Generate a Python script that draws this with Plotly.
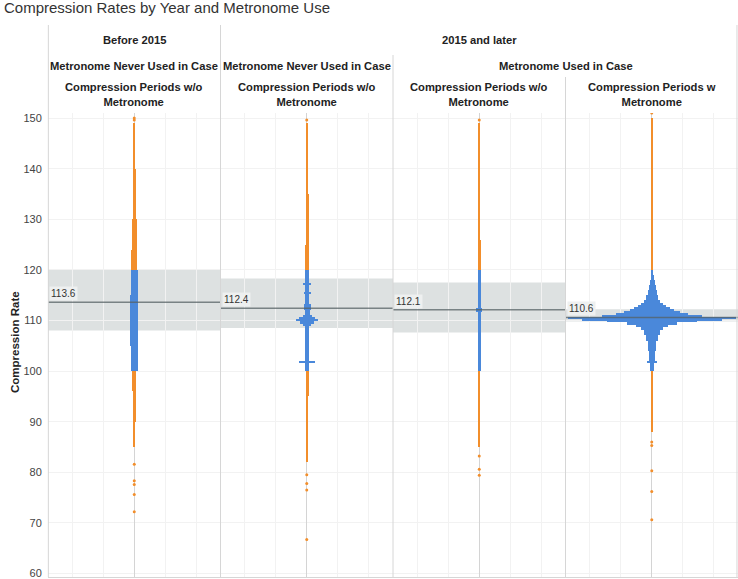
import plotly.graph_objects as go
from plotly.subplots import make_subplots

# ---------------- data ----------------
title_text = "Compression Rates by Year and Metronome Use"
year_groups = ["Before 2015", "2015 and later"]
case_groups = ["Metronome Never Used in Case", "Metronome Never Used in Case", "Metronome Used in Case"]
period_labels = ["Compression Periods w/o<br>Metronome", "Compression Periods w/o<br>Metronome",
                 "Compression Periods w/o<br>Metronome", "Compression Periods w<br>Metronome"]
y_ticks = [60, 70, 80, 90, 100, 110, 120, 130, 140, 150]

mean_rate = [113.6, 112.4, 112.1, 110.6]
band_low = [108.0, 108.5, 107.6, 109.8]
band_high = [120.0, 118.3, 117.5, 112.2]

# swarm silhouettes: rate bin edges (top->bottom) and half-spread of the swarm in each bin
p1_edges = [149.0, 140, 130, 124, 120, 115, 105, 100, 96, 90, 85]
p1_spread = [1.0, 1.5, 2.5, 3.0, 3.5, 4.0, 3.5, 2.0, 1.5, 1.0]
p1_outliers = [150.0, 149.6, 81.6, 78.3, 77.6, 75.6, 72.2]

p2_edges = [149.0, 146, 135, 125, 120, 117.5, 117.1, 115.6, 115.2, 113.2, 112.0, 111.0, 110.6,
            110.2, 109.8, 109.4, 109.0, 102.0, 101.5, 100, 95, 88, 82]
p2_spread = [0.8, 1.2, 1.5, 2.0, 2.2, 4.0, 2.2, 3.5, 2.2, 3.5, 2.5, 4.5, 8, 11, 7, 4, 2.2, 8, 2.2,
             1.5, 1.0, 0.8]
p2_outliers = [149.6, 79.5, 77.8, 76.5, 66.7]

p3_edges = [149.0, 126, 120, 112.5, 111.7, 100, 90, 85]
p3_spread = [1.0, 1.4, 1.6, 3.0, 1.6, 1.0, 0.7]
p3_outliers = [149.6, 83.2, 80.6, 79.4]

p4_edges = [150.0, 135, 120, 119, 118, 117, 116, 115, 114, 113.4, 113.0, 112.6, 112.2, 111.8, 111.4,
            111.0, 110.6, 110.3, 110.0, 109.6, 109.2, 108.8, 108.2, 107.2, 106.0, 104.0, 102.0, 101.5,
            100.0, 94, 88]
p4_spread = [0.8, 1.0, 1.0, 1.5, 2.5, 3.5, 4.5, 6, 8, 11, 14, 18, 22, 28, 36, 50, 84, 70, 45, 25, 16,
             11, 8, 6, 4, 3, 5, 2, 1.2, 0.8]
p4_outliers = [151.0, 86.0, 85.3, 80.3, 76.2, 70.6]

normal_low, normal_high = 100, 120

# ---------------- styling ----------------
FONT = "Liberation Sans, Arial, sans-serif"
BLUE = "#4a88da"
ORANGE = "#f28e2b"
BAND = "#dde1e1"
GRID = "#f2f2f2"
SEP = "#d6d6d6"

panels = [(p1_edges, p1_spread, p1_outliers), (p2_edges, p2_spread, p2_outliers),
          (p3_edges, p3_spread, p3_outliers), (p4_edges, p4_spread, p4_outliers)]

fig = make_subplots(rows=1, cols=4, shared_yaxes=True, horizontal_spacing=0)

for i, (edges, spread, outliers) in enumerate(panels):
    col = i + 1
    mids = [(edges[k] + edges[k + 1]) / 2 for k in range(len(spread))]
    thick = [edges[k] - edges[k + 1] for k in range(len(spread))]
    colors = [BLUE if normal_low <= m <= normal_high else ORANGE for m in mids]
    fig.add_trace(go.Bar(orientation="h", y=mids, x=[2 * s for s in spread], base=[-s for s in spread],
                         width=thick, marker=dict(color=colors, line=dict(width=0)),
                         showlegend=False, hoverinfo="y"), row=1, col=col)
    fig.add_trace(go.Scatter(x=[0] * len(outliers), y=outliers, mode="markers",
                             marker=dict(size=3, color=ORANGE), showlegend=False), row=1, col=col)

    xr = "x" if col == 1 else f"x{col}"
    yr = "y" if col == 1 else f"y{col}"
    fig.add_shape(type="rect", xref=f"{xr} domain", yref=yr, x0=0, x1=1, y0=band_low[i], y1=band_high[i],
                  fillcolor=BAND, line=dict(width=0), layer="below")
    fig.add_shape(type="line", xref=f"{xr} domain", yref=yr, x0=0, x1=1, y0=mean_rate[i], y1=mean_rate[i],
                  line=dict(color="rgba(85,98,100,0.75)", width=1.5), layer="above")
    fig.add_annotation(xref=f"{xr} domain", yref=yr, x=0.008, y=mean_rate[i], xanchor="left", yanchor="bottom",
                       yshift=1, text=f"{mean_rate[i]:.1f}", showarrow=False, bgcolor="#eef0f0",
                       borderpad=1, font=dict(family=FONT, size=10, color="#333"))

fig.update_xaxes(range=[-86.25, 86.25], tick0=0, dtick=31, showticklabels=False, showgrid=True,
                 gridcolor=GRID, zeroline=True, zerolinecolor="#d4d4d4", zerolinewidth=1,
                 showline=True, linecolor=SEP, linewidth=1, mirror=False, fixedrange=True)
fig.update_yaxes(range=[59.3, 151.0], tickvals=y_ticks, showgrid=True, gridcolor=GRID, zeroline=False,
                 showline=False, ticks="outside", ticklen=3, tickcolor="rgba(0,0,0,0)",
                 ticklabeloverflow="allow",
                 tickfont=dict(family=FONT, size=11, color="#444"))

# panel separators (extend into the header area)
def py(p):
    return (577 - p) / 464.0

for xv, top in [(0.0005, 25), (0.25, 25), (0.5, 55), (0.75, 77), (0.9985, 25)]:
    fig.add_shape(type="line", xref="paper", yref="paper", x0=xv, x1=xv, y0=0, y1=py(top),
                  line=dict(color=SEP, width=1), layer="above")

hfont = dict(family=FONT, size=11.2, color="#222")
fig.add_annotation(xref="paper", yref="paper", x=0.125, y=py(40), text=f"<b>{year_groups[0]}</b>",
                   xanchor="center", yanchor="middle", showarrow=False, font=hfont)
fig.add_annotation(xref="paper", yref="paper", x=0.625, y=py(40), text=f"<b>{year_groups[1]}</b>",
                   xanchor="center", yanchor="middle", showarrow=False, font=hfont)
for xv, txt in zip([0.125, 0.375, 0.75], case_groups):
    fig.add_annotation(xref="paper", yref="paper", x=xv, y=py(66), text=f"<b>{txt}</b>",
                       xanchor="center", yanchor="middle", showarrow=False, font=hfont)
for xv, txt in zip([0.125, 0.375, 0.625, 0.875], period_labels):
    b = txt.replace("<br>", "</b><br><b>")
    fig.add_annotation(xref="paper", yref="paper", x=xv, y=py(94.5), text=f"<b>{b}</b>",
                       xanchor="center", yanchor="middle", showarrow=False, font=hfont)

fig.add_annotation(xref="paper", yref="paper", x=(15 - 48) / 690, y=py(342), text="<b>Compression Rate</b>",
                   xanchor="center", yanchor="middle",
                   textangle=-90, showarrow=False, font=dict(family=FONT, size=11.5, color="#222"))

fig.update_layout(
    width=738, height=579,
    margin=dict(l=48, r=0, t=113, b=2, autoexpand=False),
    paper_bgcolor="white", plot_bgcolor="white",
    title=dict(text=title_text, x=4 / 738, xanchor="left", xref="container", y=1 - 8 / 579, yanchor="middle",
               font=dict(family=FONT, size=15, color="#333")),
    bargap=0, showlegend=False,
)

fig.write_html("out.html", config={"displayModeBar": False},
               post_script="document.body.style.margin='0';document.body.style.overflow='hidden';")
